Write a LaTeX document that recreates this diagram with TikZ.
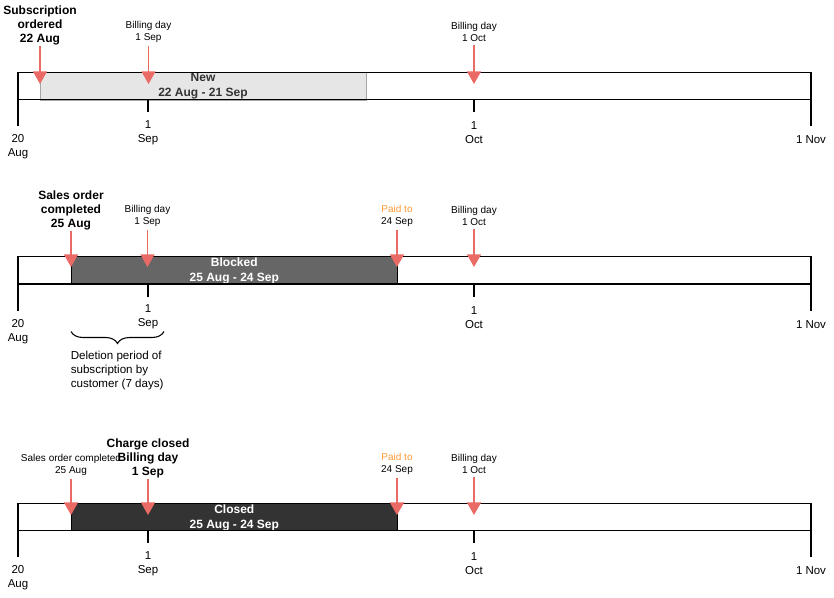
\documentclass[tikz,border=0pt]{standalone}
\usepackage{fontspec}
\setmainfont{Liberation Sans}
\usetikzlibrary{arrows.meta,decorations.pathreplacing}
\definecolor{pinred}{HTML}{EA6B66}
\definecolor{paidorange}{HTML}{FF9933}
\definecolor{newgray}{HTML}{E6E6E6}
\definecolor{blockgray}{HTML}{666666}
\definecolor{closegray}{HTML}{333333}

\begin{document}
\begin{tikzpicture}[x=0.75pt,y=-0.75pt]
	\tikzstyle{every node}+=[inner sep=0pt]
	\tikzstyle{duearrow}=[pinred, line width=1.1pt, -{Triangle[width=10.5pt,length=9.5pt]}]
	\tikzstyle{boldlbl}=[align=center, inner ysep=0.5pt, font=\bfseries\fontsize{9}{10.5}\selectfont]
	\tikzstyle{smalllbl}=[align=center, inner ysep=2pt, font=\fontsize{7.5}{9.3}\selectfont]
	\tikzstyle{axislbl}=[align=center, font=\fontsize{8.6}{10.5}\selectfont]
	\tikzstyle{barlbl}=[align=center, font=\bfseries\fontsize{9}{11.2}\selectfont]
	\useasboundingbox (0,0) rectangle (834,598);
	% periods
	\draw [gray!70, fill=newgray] (40,72.5) rectangle (366.7,100);
	\node [barlbl, text=closegray] (new) at (203,86.5) {New\\22 Aug - 21 Sep};
	\draw [black, fill=blockgray] (71,256.7) rectangle (397.7,283.5);
	\node [barlbl, text=white] (blocked) at (234.3,270.5) {Blocked\\25 Aug - 24 Sep};
	\draw [black, fill=closegray] (71,503.3) rectangle (397.7,530.5);
	\node [barlbl, text=white] (closed) at (234.3,518) {Closed\\25 Aug - 24 Sep};
	% timelines
	\foreach \t/\p in {72.5/1,256.7/2,503.3/3}{
		\draw [black, line width=1.1pt] (18,\t) rectangle (811,\t+27.2);
		\draw [black, line width=1.1pt] (18,\t+27.2) -- (18,\t+54) (811,\t+27.2) -- (811,\t+54);
		\draw [black, line width=1.1pt] (148,\t+27.2) -- (148,\t+40) (474,\t+27.2) -- (474,\t+40);
		\node [axislbl] (aug\p) at (18,\t+74.5) {20\\Aug};
		\node [axislbl] (sep\p) at (148,\t+60.5) {1\\Sep};
		\node [axislbl] (oct\p) at (474,\t+60.5) {1\\Oct};
		\node [axislbl] (nov\p) at (811,\t+67.5) {1 Nov};
	}
	% new
	\node [boldlbl, anchor=south] (ordered) at (40,46) {Subscription\\ordered\\22 Aug};
	\coordinate (orderedtip) at (40,84);
	\draw [duearrow] (ordered) -- (orderedtip);
	\node [smalllbl, anchor=south] (billsep1) at (148.5,46) {Billing day\\1 Sep};
	\coordinate (billsep1tip) at (148.5,84);
	\draw [duearrow] (billsep1) -- (billsep1tip);
	\node [smalllbl, anchor=south] (billoct1) at (474,45) {Billing day\\1 Oct};
	\coordinate (billoct1tip) at (474,84);
	\draw [duearrow] (billoct1) -- (billoct1tip);
	% blocked
	\node [boldlbl, anchor=south] (completed) at (71,231) {Sales order\\completed\\25 Aug};
	\coordinate (completedtip) at (71,267);
	\draw [duearrow] (completed) -- (completedtip);
	\node [smalllbl, anchor=south] (billsep2) at (147.5,230) {Billing day\\1 Sep};
	\coordinate (billsep2tip) at (147.5,267);
	\draw [duearrow] (billsep2) -- (billsep2tip);
	\node [smalllbl, anchor=south] (paid2) at (397,230) {{\color{paidorange}Paid to}\\24 Sep};
	\coordinate (paid2tip) at (397,267);
	\draw [duearrow] (paid2) -- (paid2tip);
	\node [smalllbl, anchor=south] (billoct2) at (474,229) {Billing day\\1 Oct};
	\coordinate (billoct2tip) at (474,267);
	\draw [duearrow] (billoct2) -- (billoct2tip);
	\draw [black, line width=0.8pt, decorate, decoration={brace, mirror, amplitude=9pt}] (71,331.5) -- (164,331.5);
	\node [align=left, anchor=north west, font=\fontsize{8.7}{10.8}\selectfont] (deletion) at (70.5,350.5) {Deletion period of\\subscription by\\customer (7 days)};
	% closed
	\node [boldlbl, anchor=south] (charge) at (148,479) {Charge closed\\Billing day\\1 Sep};
	\coordinate (chargetip) at (148,515);
	\draw [duearrow] (charge) -- (chargetip);
	\node [smalllbl, anchor=south] (completed3) at (71,479) {Sales order completed\\25 Aug};
	\coordinate (completed3tip) at (71,515);
	\draw [duearrow] (completed3) -- (completed3tip);
	\node [smalllbl, anchor=south] (paid3) at (397,478) {{\color{paidorange}Paid to}\\24 Sep};
	\coordinate (paid3tip) at (397,515);
	\draw [duearrow] (paid3) -- (paid3tip);
	\node [smalllbl, anchor=south] (billoct3) at (474,477) {Billing day\\1 Oct};
	\coordinate (billoct3tip) at (474,515);
	\draw [duearrow] (billoct3) -- (billoct3tip);
\end{tikzpicture}
\end{document}
